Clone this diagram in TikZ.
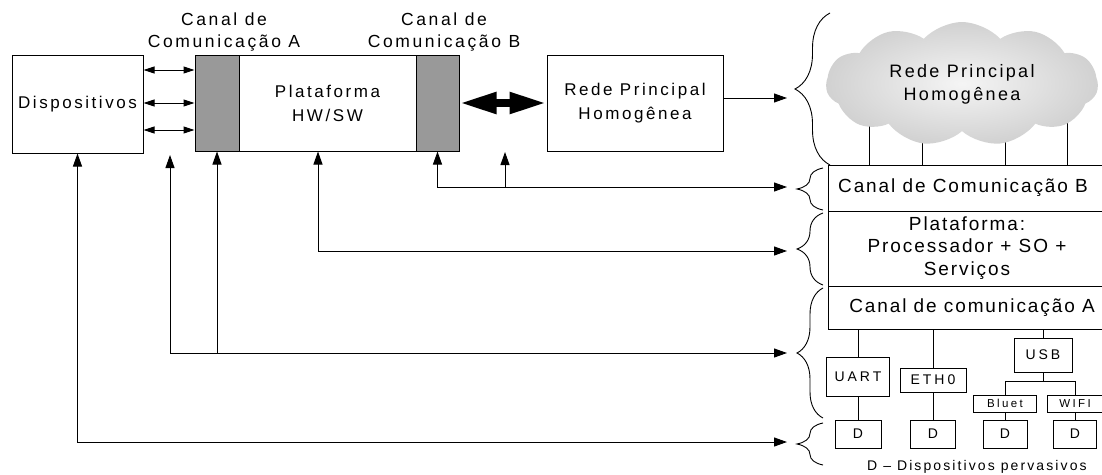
\documentclass[tikz,border=0pt]{standalone}
\usepackage{fontspec}
\setmainfont{Liberation Sans}[LetterSpace=15]
\newfontfamily\labfont{Liberation Sans}[LetterSpace=15]
\newfontfamily\rightfont{Liberation Sans}[LetterSpace=10]
\newfontfamily\cloudfont{Liberation Sans}[LetterSpace=13]
\newfontfamily\capfont{Liberation Sans}[LetterSpace=15]
\newfontfamily\tagfont{Liberation Sans}[LetterSpace=21]
\usetikzlibrary{arrows.meta,decorations.pathreplacing,shapes.symbols}
\definecolor{chgray}{gray}{0.6}
\begin{document}
\begin{tikzpicture}[x=1pt,y=-1pt,
  box/.style={draw, line width=1pt, inner sep=0pt, align=center, font=\fontsize{17}{24}\selectfont},
  chan/.style={box, fill=chgray},
  tag/.style={draw, line width=1pt, inner sep=0pt, align=center, font=\tagfont\fontsize{14}{15}\selectfont},
  stag/.style={draw, line width=1pt, inner sep=0pt, align=center, font=\tagfont\fontsize{11.5}{12}\selectfont},
  dbox/.style={draw, line width=1pt, inner sep=0pt, minimum height=28pt, font=\fontsize{14}{15}\selectfont},
  lab/.style={align=center, inner sep=0pt, font=\labfont\fontsize{17.5}{22}\selectfont},
  rlab/.style={align=center, inner sep=0pt, font=\rightfont\fontsize{19}{22.5}\selectfont},
  conn/.style={line width=1pt},
  arr/.style={line width=1pt, -{Triangle[length=13pt,width=9pt]}},
  darr/.style={line width=1pt, {Triangle[length=13pt,width=9pt]}-{Triangle[length=13pt,width=9pt]}},
  sarr/.style={line width=1pt, {Triangle[length=11pt,width=7pt]}-{Triangle[length=11pt,width=7pt]}},
  bigarr/.style={line width=8pt, {Triangle[length=37pt,width=20pt]}-{Triangle[length=37pt,width=20pt]}},
  bigbrace/.style={decorate, decoration={brace, amplitude=35pt}, line width=0.9pt},
  smallbrace/.style={decorate, decoration={brace, amplitude=26pt}, line width=0.9pt}
]
\useasboundingbox (0,0) rectangle (1102,474);

% ---------- left block ----------
\node[box, minimum width=131pt, minimum height=98pt] (disp) at (77.5,104) {Dispositivos};
\node[chan, minimum width=44pt, minimum height=96pt] (grayA) at (217,103) {};
\node[box, minimum width=177pt, minimum height=96pt] (plat) at (327.5,103) {Plataforma\\HW/SW};
\node[chan, minimum width=43pt, minimum height=96pt] (grayB) at (437.5,103) {};
\node[box, minimum width=176pt, minimum height=96pt] (rede) at (635,103) {Rede Principal\\Homogênea};

\node[lab] (labA) at (224,32) {Canal de\\Comunicação A};
\node[lab] (labB) at (444,32) {Canal de\\Comunicação B};

\draw[sarr] (disp.east |- 0,70) -- (grayA.west |- 0,70);
\draw[sarr] (disp.east |- 0,103) -- (grayA.west |- 0,103);
\draw[sarr] (disp.east |- 0,130) -- (grayA.west |- 0,130);
\draw[bigarr] (grayB.east) -- (rede.west);

% ---------- cloud ----------
\coordinate (c1) at (869,110);
\coordinate (c2) at (922,110);
\coordinate (c3) at (1005,110);
\coordinate (c4) at (1067,110);

% ---------- right stack ----------
\node[box, minimum width=276pt, minimum height=46pt] (canalB) at (966,188) {};
\node[box, minimum width=276pt, minimum height=75pt] (platR) at (966,248.5) {};
\node[box, minimum width=276pt, minimum height=43pt] (canalAR) at (966,307.5) {};
\node[rlab] (tB) at (963,188) {Canal de Comunicação B};
\node[rlab] (tP) at (967,248) {Plataforma:\\Processador + SO +\\Serviços};
\node[rlab] (tA) at (972,308) {Canal de comunicação A};

\foreach \c in {c1,c2,c3,c4} \draw[conn] (\c) -- (\c |- canalB.north);

\node[cloud, cloud puffs=11, cloud puff arc=95, cloud ignores aspect,
      minimum width=272pt, minimum height=124pt, inner sep=0pt,
      inner color=gray!8, outer color=gray!36, align=center,
      font=\cloudfont\fontsize{18}{23}\selectfont] (cloud) at (962,84) {Rede Principal\\Homogênea};

\node[tag, minimum width=63pt, minimum height=39pt] (uart) at (858,376.5) {UART};
\node[tag, minimum width=66pt, minimum height=24pt] (eth) at (933,380) {ETH0};
\node[tag, minimum width=58pt, minimum height=34pt] (usb) at (1043,355) {USB};
\node[stag, minimum width=63pt, minimum height=17pt] (bluet) at (1005,403.5) {Bluet};
\node[stag, minimum width=55pt, minimum height=17pt] (wifi) at (1075,403.5) {WIFI};

\node[dbox, minimum width=46pt] (d1) at (858,434) {D};
\node[dbox, minimum width=45pt] (d2) at (933,434) {D};
\node[dbox, minimum width=44pt] (d3) at (1005,434) {D};
\node[dbox, minimum width=43pt] (d4) at (1075,434) {D};

\draw[conn] (canalAR.south -| uart.north) -- (uart.north);
\draw[conn] (canalAR.south -| eth.north) -- (eth.north);
\draw[conn] (canalAR.south -| usb.north) -- (usb.north);
\draw[conn] (usb.south) -- ++(0,9) coordinate (usbj);
\draw[conn] (bluet.north) |- (usbj) -| (wifi.north);
\draw[conn] (uart.south) -- (d1.north);
\draw[conn] (eth.south) -- (d2.north);
\draw[conn] (bluet.south) -- (d3.north);
\draw[conn] (wifi.south) -- (d4.north);

\node[anchor=west, inner sep=0pt, font=\capfont\fontsize{14}{15}\selectfont] (cap) at (867,467) {D – Dispositivos pervasivos};

% ---------- braces ----------
\draw[bigbrace] (830,165) -- (830,13);
\draw[smallbrace] (823,210) -- (823,168);
\draw[smallbrace] (823,285) -- (823,213);
\draw[smallbrace] (823,418) -- (823,288);
\draw[smallbrace] (823,465) -- (823,423);

% ---------- connectors to the braces ----------
\coordinate (eR) at (787,98);
\coordinate (eB) at (787,187);
\coordinate (eP) at (787,251);
\coordinate (eA) at (787,353);
\coordinate (eD) at (787,442);

\draw[arr] ([yshift=5pt]rede.east) -- (eR);
\draw[darr] (grayB.south) |- (eB);
\coordinate (jB) at (505,187);
\coordinate (fB) at (505,152);
\draw[arr] (jB) -- (fB);
\draw[darr] ([xshift=-9.5pt]plat.south) |- (eP);
\coordinate (fA) at (170,155);
\draw[darr] (fA) |- (eA);
\draw[arr] (grayA.south |- eA) -- (grayA.south);
\draw[darr] (disp.south) |- (eD);
\end{tikzpicture}
\end{document}
